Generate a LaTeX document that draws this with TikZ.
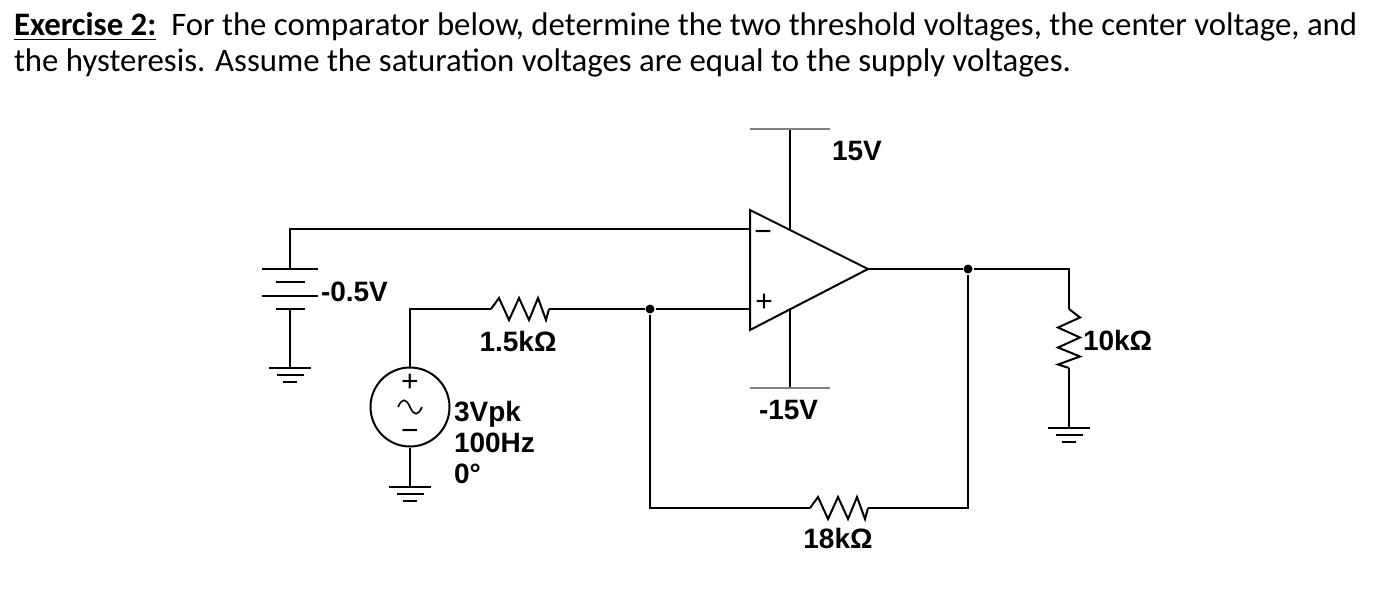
\documentclass[tikz,border=0pt]{standalone}
\usepackage{fontspec}
\setmainfont{Carlito}
\newfontfamily\arialfont{Liberation Sans}
\tikzset{
  resh/.pic={
    \draw (-29,0) -- (-21,-11) -- (-11,11) -- (-1,-11) -- (9,11) -- (18,-11) -- (26,11) -- (29,0);
    \coordinate (-w) at (-29,0);
    \coordinate (-e) at (29,0);
  },
  resv/.pic={
    \draw (0,-29.5) -- (11,-21) -- (-11,-11) -- (11,-1) -- (-11,9) -- (11,18) -- (-11,26) -- (0,29.5);
    \coordinate (-n) at (0,-29.5);
    \coordinate (-s) at (0,29.5);
  },
  gnd/.pic={
    \draw (-21,0) -- (21,0) (-13.5,7) -- (13.5,7) (-7,14) -- (7,14);
    \coordinate (-top) at (0,0);
  },
  batt/.pic={
    \draw (-28,-20) -- (28,-20) (-14.5,-7) -- (14.5,-7)
          (-28,7) -- (28,7) (-14.5,20) -- (14.5,20);
    \coordinate (-p) at (0,-20);
    \coordinate (-n) at (0,20);
  },
  wave/.pic={
    \draw[line width=0.8pt] (-12,0) .. controls (-8,-9) and (-4,-9) .. (0,0) .. controls (4,9) and (8,9) .. (12,0);
  }
}
\begin{document}
\begin{tikzpicture}[x=0.5pt, y=-0.5pt, line width=1pt,
  lbl/.style={font=\arialfont\bfseries\fontsize{14}{15.5}\selectfont, inner sep=0pt},
  sign/.style={font=\arialfont\fontsize{15}{15}\selectfont, inner sep=0pt},
  title/.style={anchor=base west, inner sep=0pt, font=\fontsize{16.4}{19}\selectfont},
  dot/.style={circle, fill, inner sep=0pt, minimum size=4.5pt},
  rail/.style={line width=0.6pt, gray}]
\useasboundingbox (0,0) rectangle (1390,610);

\node[title] (title1) at (13,36)
  {\textbf{\underline{Exercise 2:}}\ \ For the comparator below, determine the two threshold voltages, the center voltage, and};
\node[title] (title2) at (13,72)
  {the hysteresis. Assume the saturation voltages are equal to the supply voltages.};

\coordinate (oa-tl) at (750,210);
\coordinate (oa-bl) at (750,330);
\coordinate (oa-out) at (868,269);
\coordinate (oa-inm) at (750,229);
\coordinate (oa-inp) at (750,309);
\coordinate (oa-vp) at (790,229.5);
\coordinate (oa-vn) at (790,308.5);
\coordinate (vp) at (790,129);
\coordinate (vn) at (790,388);
\draw (oa-tl) -- (oa-out) -- (oa-bl) -- cycle;
\node[sign] (oa-m) at (763,236) {−};
\node[sign] (oa-p) at (764,303) {+};
\draw (oa-vp) -- (vp);
\draw (oa-vn) -- (vn);
\draw[rail] ([xshift=-20pt]vp) -- ([xshift=20pt]vp);
\draw[rail] ([xshift=-20pt]vn) -- ([xshift=20pt]vn);
\node[lbl, anchor=west] (vp-lbl) at (831,151) {15V};
\node[lbl, anchor=west] (vn-lbl) at (758,410) {-15V};

\node[dot] (jin) at (650,309) {};
\node[dot] (jout) at (968,269) {};

\pic (bat) at (290,289) {batt};
\pic (g0) at (290,368) {gnd};
\draw (bat-p) |- (oa-inm);
\draw (bat-n) -- (g0-top);
\node[lbl, anchor=west] (bat-lbl) at (320,292) {-0.5V};

\node[draw, circle, minimum size=39.5pt, inner sep=0pt] (src) at (410,407) {};
\node[sign] (src-p) at (410,383) {+};
\pic (src-w) at (410,407) {wave};
\node[sign] (src-m) at (410,435) {−};
\pic (g1) at (410,487) {gnd};
\draw (src.south) -- (g1-top);
\node[lbl, anchor=west, align=left] (src-lbl) at (453,442) {3Vpk\\100Hz\\0°};

\pic (r1) at (520,309) {resh};
\draw (src.north) |- (r1-w);
\draw (r1-e) -- (jin) -- (oa-inp);
\node[lbl] (r1-lbl) at (518,341) {1.5kΩ};

\pic (r2) at (839,508) {resh};
\draw (jin) |- (r2-w);
\draw (r2-e) -| (jout);
\node[lbl] (r2-lbl) at (838,538) {18kΩ};

\draw (oa-out) -- (jout);
\pic (r3) at (1069,338.5) {resv};
\pic (g3) at (1069,428) {gnd};
\draw (jout) -| (r3-n);
\draw (r3-s) -- (g3-top);
\node[lbl, anchor=west] (r3-lbl) at (1082,340) {10kΩ};
\end{tikzpicture}
\end{document}
